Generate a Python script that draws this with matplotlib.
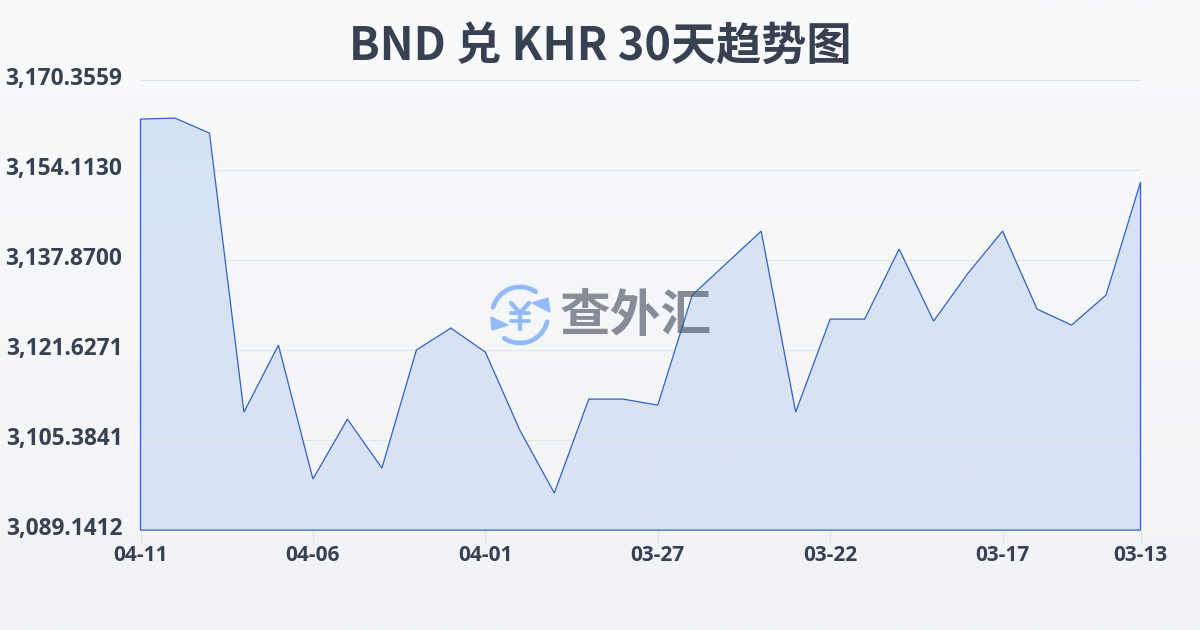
import numpy as np
import matplotlib
matplotlib.use('Agg')
from matplotlib import pyplot as plt
from matplotlib.patches import Arc, Polygon

plt.rcParams['font.family'] = ['Noto Sans CJK SC', 'DejaVu Sans']

# 30天汇率，从新到旧
dates = ['04-11', '04-10', '04-09', '04-08', '04-07', '04-06', '04-05', '04-04', '04-03', '04-02',
         '04-01', '03-31', '03-30', '03-29', '03-28', '03-27', '03-26', '03-25', '03-24', '03-23',
         '03-22', '03-21', '03-20', '03-19', '03-18', '03-17', '03-16', '03-15', '03-14', '03-13']
rates = [3163.32, 3163.50, 3160.79, 3110.44, 3122.53, 3098.35, 3109.17, 3100.33, 3121.63, 3125.60,
         3121.27, 3107.19, 3095.82, 3112.78, 3112.78, 3111.70, 3131.55, 3137.33, 3143.10, 3110.44,
         3127.22, 3127.22, 3139.86, 3126.86, 3135.52, 3143.10, 3129.03, 3126.14, 3131.55, 3151.95]
y_ticks = [3089.1412, 3105.3841, 3121.6271, 3137.8700, 3154.1130, 3170.3559]
x_tick_idx = [0, 5, 10, 15, 20, 25, 29]

W, H = 1200, 630
LINE = '#2f62c8'
TEXT = '#374151'
LATIN = ['Open Sans', 'DejaVu Sans']

fig = plt.figure(figsize=(W / 100, H / 100), dpi=100)

# 背景渐变
bg = fig.add_axes([0, 0, 1, 1], zorder=0)
bg.imshow(np.linspace(0, 1, 256).reshape(-1, 1),
          cmap=matplotlib.colors.LinearSegmentedColormap.from_list('bg', ['#f8fafc', '#f1f3f6']),
          aspect='auto', extent=[0, 1, 0, 1])
bg.axis('off')

ax = fig.add_axes([140.5 / W, 1 - 530.1 / H, 1000 / W, 450 / H], zorder=1)
ax.patch.set_alpha(0)
x = np.arange(len(rates))
ax.set_xlim(0, len(rates) - 1)
ax.set_ylim(y_ticks[0], y_ticks[-1])

# 面积渐变，用折线多边形裁剪
grad = matplotlib.colors.LinearSegmentedColormap.from_list('fill', ['#d5e2f6', '#dbe2f5'])
im = ax.imshow(np.linspace(0, 1, 256).reshape(-1, 1), cmap=grad, aspect='auto', zorder=2,
               extent=[0, len(rates) - 1, y_ticks[0], y_ticks[-1]])
verts = [(x[0], y_ticks[0])] + list(zip(x, rates)) + [(x[-1], y_ticks[0])]
poly = Polygon(verts, closed=True, facecolor='none', edgecolor=LINE, linewidth=0.9, zorder=4, clip_on=False)
ax.add_patch(poly)
im.set_clip_path(poly)

ax.set_yticks(y_ticks)
ax.set_yticklabels([])
ax.set_xticks(x_tick_idx)
ax.set_xticklabels([dates[i] for i in x_tick_idx], fontsize=15, fontweight='bold', color=TEXT, family=LATIN)
ax.tick_params(axis='x', length=10, width=0.8, color='#e2e6ec', pad=0.5)
ax.tick_params(axis='y', length=0)
ax.grid(axis='y', color='#e2e6ec', linewidth=0.8, zorder=3)
ax.set_axisbelow(False)
for s in ax.spines.values():
    s.set_visible(False)

# y轴文字稍微偏上
for v in y_ticks:
    ax.annotate(f'{v:,.4f}', xy=(0, v), xycoords=('axes fraction', 'data'), xytext=(-13, 1),
                textcoords='offset points', ha='right', va='center', fontsize=16.3, fontweight='bold',
                color=TEXT, family=LATIN, annotation_clip=False)

fig.text(600 / W, 1 - 47 / H, 'BND 兑 KHR 30天趋势图', ha='center', va='center',
         fontsize=32.5, fontweight='bold', color=TEXT)

# 水印
ov = fig.add_axes([0, 0, 1, 1], zorder=5)
ov.set_xlim(0, W)
ov.set_ylim(H, 0)
ov.axis('off')
ov.patch.set_alpha(0)
BLUE = '#93baf9'
ov.text(636, 316, '查外汇', ha='center', va='center', fontsize=36.5, fontweight='bold',
        color='#4b5563', alpha=0.65)
ov.add_patch(Arc((520, 315), 56, 56, theta1=196, theta2=304, color=BLUE, lw=3.4, capstyle='round'))
ov.add_patch(Arc((520, 315), 56, 56, theta1=14, theta2=124, color=BLUE, lw=3.4, capstyle='round'))
ov.add_patch(Polygon([(548, 298), (550, 312), (532, 303)], color=BLUE))
ov.add_patch(Polygon([(491, 317), (492, 330), (508, 325)], color=BLUE))
# ¥ 符号
ov.plot([511, 520, 529], [303, 313, 303], color=BLUE, lw=3.2, solid_capstyle='round', solid_joinstyle='round')
ov.plot([520, 520], [313, 329], color=BLUE, lw=3.2, solid_capstyle='round')
ov.plot([511, 529], [313, 313], color=BLUE, lw=2.8, solid_capstyle='round')
ov.plot([511, 529], [320.5, 320.5], color=BLUE, lw=2.8, solid_capstyle='round')
ov.set_xlim(0, W)
ov.set_ylim(H, 0)

fig.savefig('out.png', dpi=100)
